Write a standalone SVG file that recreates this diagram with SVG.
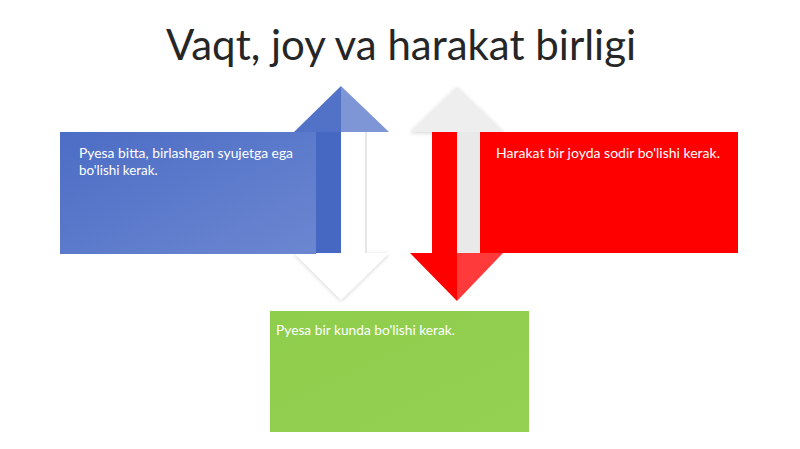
<svg xmlns="http://www.w3.org/2000/svg" width="800" height="449" viewBox="0 0 800 449">
<defs>
<linearGradient id="gBlue" x1="0" y1="0" x2="1" y2="1">
<stop offset="0" stop-color="#4c6dc5"/>
<stop offset="1" stop-color="#6c87d1"/>
</linearGradient>
<linearGradient id="gGreen" x1="0" y1="0" x2="1" y2="1">
<stop offset="0" stop-color="#8fcd4c"/>
<stop offset="1" stop-color="#94d052"/>
</linearGradient>
<filter id="sh" x="-20%" y="-20%" width="140%" height="140%">
<feGaussianBlur in="SourceAlpha" stdDeviation="2"/>
<feOffset dx="0" dy="1"/>
<feComponentTransfer><feFuncA type="linear" slope="0.18"/></feComponentTransfer>
<feMerge><feMergeNode/><feMergeNode in="SourceGraphic"/></feMerge>
</filter>
</defs>
<style>
.title{font-family:Lato,"Open Sans","Liberation Sans",sans-serif;font-size:42px;fill:#262626;}
.lbl{font-family:Lato,"Open Sans","Liberation Sans",sans-serif;font-size:13.4px;fill:#ffffff;}
</style>
<rect width="800" height="449" fill="#ffffff"/>
<g id="title">
<text class="title" x="401" y="60" text-anchor="middle">Vaqt, joy va harakat birligi</text>
</g>
<g id="connectors">
<g id="arrow-left">
<polygon points="294,253 389,253 341,300" fill="#ffffff" filter="url(#sh)"/>
<rect x="341" y="132" width="25" height="121" fill="#ffffff"/>
<line x1="366" y1="132" x2="366" y2="253" stroke="#cfcfcf" stroke-width="1"/>
<polygon points="341,86 341,132 294,132" fill="#5272c7"/>
<polygon points="341,86 389,132 341,132" fill="#7e95d6"/>
<rect x="316" y="132" width="25" height="121" fill="#4667c2"/>
</g>
<g id="arrow-right">
<polygon points="410,132 457,87 504,132" fill="#eeeeee" filter="url(#sh)"/>
<rect x="457" y="132" width="25" height="121" fill="#e9e9e9"/>
<rect x="432" y="132" width="25" height="121" fill="#ff0000"/>
<polygon points="410,253 457,253 457,301" fill="#ff0000"/>
<polygon points="457,253 503,253 457,301" fill="#ff3a3a"/>
</g>
</g>
<g id="box-blue">
<rect x="60" y="132" width="256" height="122" fill="url(#gBlue)"/>
<text class="lbl" x="79" y="158" textLength="214" lengthAdjust="spacingAndGlyphs">Pyesa bitta, birlashgan syujetga ega</text>
<text class="lbl" x="79" y="175">bo'lishi kerak.</text>
</g>
<g id="box-red">
<rect x="480" y="132" width="258" height="121" fill="#ff0000"/>
<text class="lbl" x="496" y="158" font-size="14.5" textLength="224" lengthAdjust="spacingAndGlyphs">Harakat bir joyda sodir bo'lishi kerak.</text>
</g>
<g id="box-green">
<rect x="270" y="311" width="259" height="121" fill="url(#gGreen)"/>
<text class="lbl" x="276" y="335" font-size="13.4" textLength="179" lengthAdjust="spacingAndGlyphs">Pyesa bir kunda bo'lishi kerak.</text>
</g>
</svg>
